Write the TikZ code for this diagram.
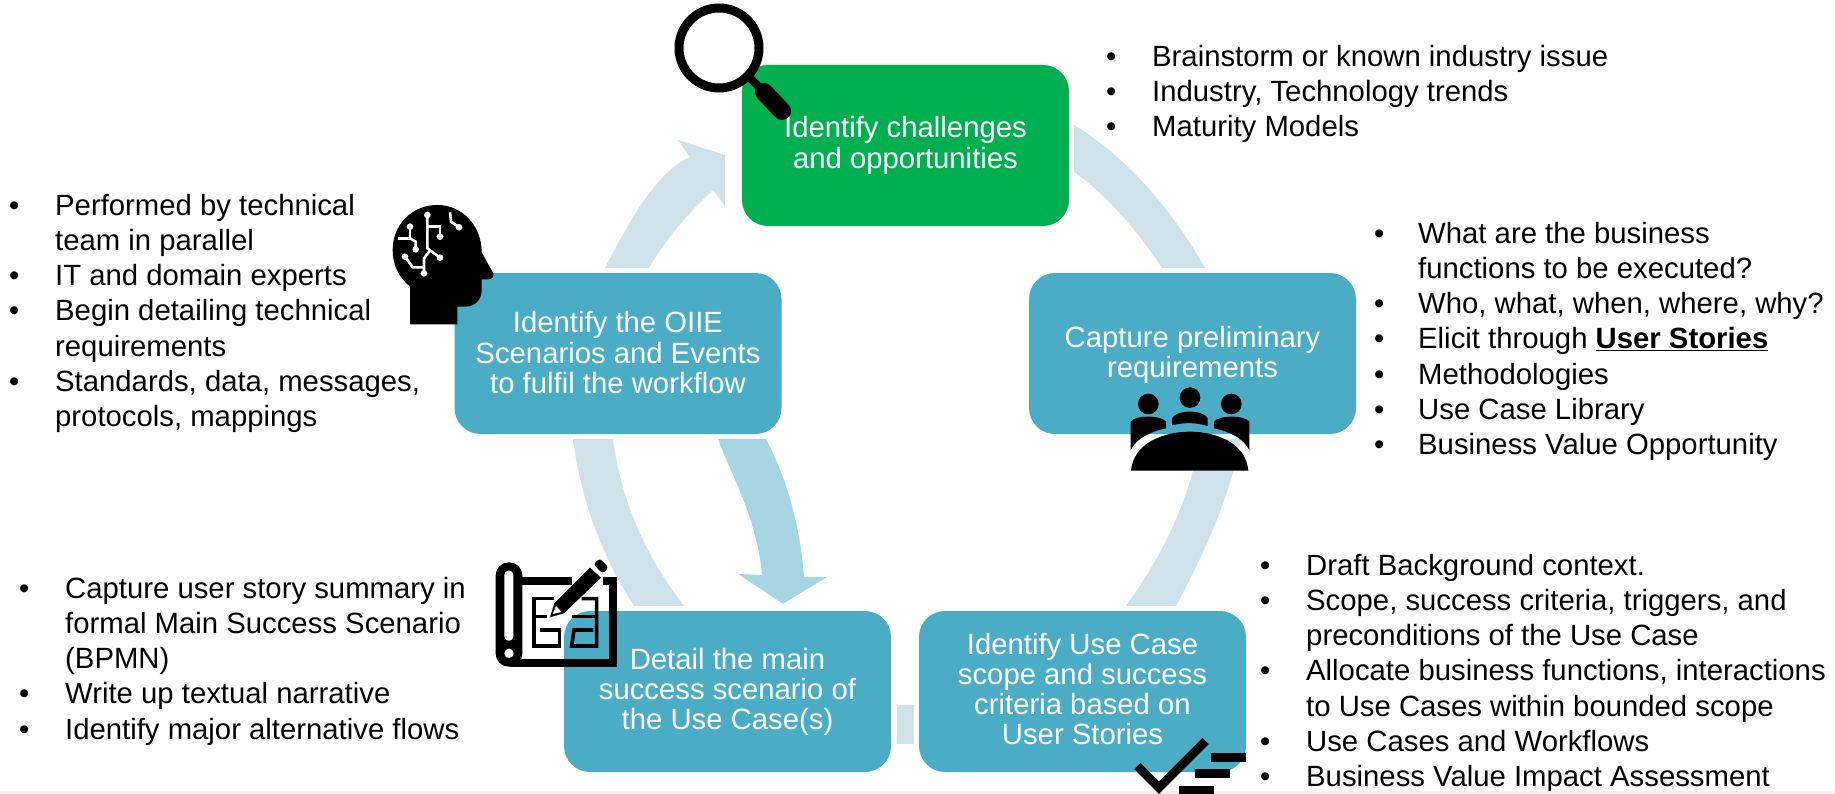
\documentclass[tikz,border=0pt]{standalone}
\usepackage{fontspec}
\setmainfont{Liberation Sans}
\usetikzlibrary{calc}
\definecolor{boxblue}{HTML}{4BACC6}
\definecolor{boxgreen}{HTML}{00B050}
\definecolor{arcpale}{HTML}{CFE2EA}
\definecolor{arcdark}{HTML}{A6D5E3}
\newlength{\bltw}
\newcommand{\blt}{\makebox[\bltw][l]{•}}
\newcommand{\cnt}{\hspace*{\bltw}}
\newcommand{\boxst}{\rule{0pt}{24pt}}
\newcommand{\boxsd}[1][5pt]{\rule[-#1]{0pt}{#1}}
\newcommand{\listst}{\rule{0pt}{26pt}}
\tikzset{
  stage/.style={rounded corners=26pt,minimum width=327pt,minimum height=161pt,inner sep=0pt,
    text=white,align=center,font=\fontsize{29.3}{30.3}\selectfont,fill=boxblue},
  bulletlist/.style={anchor=north west,inner sep=0pt,align=left,text=black,
    font=\fontsize{29.3}{35.2}\selectfont},
  paleflow/.style={fill=arcpale},
  darkflow/.style={fill=arcdark}
}
\begin{document}
\begin{tikzpicture}[x=1pt,y=-1pt]
\useasboundingbox (0,0) rectangle (1835,794);
% stages
\node[stage,fill=boxgreen] (green) at (905.5,145.5) {\boxst Identify challenges\\and opportunities\boxsd[9pt]};
\node[stage] (capture) at (1192.5,353.5) {\boxst Capture preliminary\\requirements\boxsd};
\node[stage] (usecase) at (1082.5,691.5) {\boxst Identify Use Case\\scope and success\\criteria based on\\User Stories\boxsd[8pt]};
\node[stage] (detail) at (727.5,691.5) {\boxst Detail the main\\success scenario of\\the Use Case(s)\boxsd[8pt]};
\node[stage] (oiie) at (618,353.5) {\boxst Identify the OIIE\\Scenarios and Events\\to fulfil the workflow\boxsd};
% flows
\fill[paleflow] ($(green.east)+(5,-20.5)$) .. controls (1124.7,156.3) and (1168.3,204) .. ($(capture.north)+(12.5,-5)$)
  -- ($(capture.north)+(-30.5,-5)$) .. controls (1134,226) and (1104.7,194) .. ($(green.east)+(5,26.5)$) -- cycle;
\fill[paleflow] ($(capture.south)+(48.5,5)$) .. controls (1230.3,493) and (1209,544.7) .. ($(usecase.north)+(93.5,-5)$)
  -- ($(usecase.north)+(43.5,-5)$) .. controls (1165.3,552) and (1190,496.3) .. ($(capture.south)+(7.5,5)$) -- cycle;
\fill[paleflow] ($(detail.east)+(6,13.5)$) rectangle ($(usecase.west)+(-5,52.5)$);
\fill[paleflow] ($(oiie.south)+(-45,5)$) .. controls (581,499.7) and (601.3,555.3) .. ($(detail.north)+(-93.5,-5)$)
  -- ($(detail.north)+(-43.5,-5)$) .. controls (644.7,555.3) and (621,499.7) .. ($(oiie.south)+(-5,5)$) -- cycle;
\fill[darkflow] ($(oiie.south)+(100,5)$) -- ($(oiie.south)+(148,5)$) .. controls (787.3,479.7) and (800,525.7) .. (804,577)
  -- (827,577) -- ($(detail.north)+(55.5,-7)$) -- (738,574) -- (762,575) .. controls (757.3,518.3) and (730.3,473) .. ($(oiie.south)+(100,5)$) -- cycle;
\fill[paleflow] ($(oiie.north)+(-13,-5)$) .. controls (628.3,222.7) and (656.7,171.3) .. (690,157) -- (678,140)
  -- ($(green.west)+(-17,9.5)$) -- ($(green.west)+(-17,60.5)$) -- (713,190)
  .. controls (687.7,213.3) and (665.7,239.3) .. ($(oiie.north)+(31,-5)$) -- cycle;
% lists
\setlength{\bltw}{46pt}
\node[bulletlist] (l1) at (1106,40) {\listst\blt Brainstorm or known industry issue\\\blt Industry, Technology trends\\\blt Maturity Models};
\node[bulletlist] (l5) at (9,189) {\listst\blt Performed by technical\\\cnt team in parallel\\\blt IT and domain experts\\\blt Begin detailing technical\\\cnt requirements\\\blt Standards, data, messages,\\\cnt protocols, mappings};
\node[bulletlist] (l4) at (19,572) {\listst\blt Capture user story summary in\\\cnt formal Main Success Scenario\\\cnt (BPMN)\\\blt Write up textual narrative\\\blt Identify major alternative flows};
\setlength{\bltw}{44pt}
\node[bulletlist] (l2) at (1374,217) {\listst\blt What are the business\\\cnt functions to be executed?\\\blt Who, what, when, where, why?\\\blt Elicit through \underline{\textbf{User Stories}}\\\blt Methodologies\\\blt Use Case Library\\\blt Business Value Opportunity};
\setlength{\bltw}{46pt}
\node[bulletlist] (l3) at (1260,549) {\listst\blt Draft Background context.\\\blt Scope, success criteria, triggers, and\\\cnt preconditions of the Use Case\\\blt Allocate business functions, interactions\\\cnt to Use Cases within bounded scope\\\blt Use Cases and Workflows\\\blt Business Value Impact Assessment};
% magnifier
\draw[black,line width=9pt] (719,48) circle[radius=40];
\draw[black,line width=8pt] (748,76) -- (762,90);
\draw[black,line width=18pt,line cap=round] (764,92) -- (782,111);
% head icon
\begin{scope}[shift={(380,0)},x=0.3333pt,y=-0.3333pt]
\fill[black] (90,973) -- (90,860) .. controls (55,830) and (38,795) .. (38,750)
  .. controls (38,675) and (95,615) .. (172,615) .. controls (245,615) and (305,675) .. (305,757)
  -- (340,820) .. controls (343,830) and (335,838) .. (325,838) -- (305,838) -- (305,870)
  .. controls (305,900) and (285,920) .. (255,920) -- (232,920) -- (232,973) -- cycle;
\draw[white,line width=2.6pt] (142,645) -- (142,745) -- (180,773);
\draw[white,line width=2.6pt] (142,680) -- (180,680) -- (180,710);
\draw[white,line width=2.6pt] (150,752) -- (132,775) -- (132,820);
\draw[white,line width=2.6pt] (132,802) -- (98,802) -- (75,770);
\draw[white,line width=2.6pt] (90,680) -- (90,715) -- (55,715);
\draw[white,line width=2.6pt] (90,715) -- (107,725) -- (107,748);
\draw[white,line width=2.6pt] (210,637) -- (213,665) -- (237,682);
\foreach \p in {(142,645),(180,773),(180,710),(132,820),(75,770),(90,680),(107,748),(237,682)}
  \fill[white] \p circle[radius=10];
\end{scope}
% blueprint icon
\begin{scope}[shift={(460,400)},x=0.3333pt,y=-0.3333pt]
\fill[black,rounded corners=13pt] (107,487) rectangle (187,800);
\fill[white,rounded corners=4pt] (133,512) rectangle (160,722);
\fill[white] (147,760) circle[radius=14];
\draw[black,line width=8.2pt] (180,542) -- (335,542);
\draw[black,line width=8.2pt] (430,542) -- (460,542) -- (460,788) -- (150,788);
\draw[black,line width=3.6pt] (282,596) -- (222,596) -- (222,738) -- (298,738) -- (298,690) -- (240,690);
\draw[black,line width=3.6pt] (222,650) -- (262,650);
\draw[black,line width=3.6pt] (365,596) -- (410,596) -- (410,738) -- (335,738) -- (342,690) -- (400,690);
\draw[black,line width=3.6pt] (335,650) -- (410,650);
\fill[black] (270,652) -- (283,610) -- (390,503) -- (423,533) -- (312,640) -- cycle;
\fill[black,rounded corners=3pt] (400,493) -- (420,475) -- (446,503) -- (428,521) -- cycle;
\fill[white] (278,642) -- (288,618) -- (305,636) -- cycle;
\end{scope}
% meeting icon
\begin{scope}[shift={(1030,350)},x=0.3333pt,y=-0.3333pt]
\fill[black] (355,162) circle[radius=31];
\fill[black] (480,143) circle[radius=31];
\fill[black] (604,162) circle[radius=31];
\fill[black] (302,300) -- (302,215) .. controls (315,195) and (395,195) .. (408,215) -- (408,235) .. controls (360,245) and (320,265) .. (302,300) -- cycle;
\fill[black] (426,226) -- (426,205) .. controls (440,178) and (520,178) .. (533,205) -- (533,228) .. controls (500,217) and (460,217) .. (426,226) -- cycle;
\fill[black] (658,300) -- (658,215) .. controls (645,195) and (565,195) .. (552,215) -- (552,235) .. controls (600,245) and (640,265) .. (658,300) -- cycle;
\fill[black] (303,362) .. controls (310,280) and (400,245) .. (480,245) .. controls (560,245) and (648,280) .. (655,362) -- cycle;
\end{scope}
% checklist icon
\fill[black!6] (0,791) rectangle (1835,794);
\begin{scope}[shift={(1030,350)},x=0.3333pt,y=-0.3333pt]
\draw[black,line width=9pt] (322,1248) -- (387,1313) -- (527,1173);
\fill[black] (543,1209) rectangle (648,1235);
\fill[black] (495,1258) rectangle (600,1283);
\fill[black] (447,1308) rectangle (552,1332);
\end{scope}
\end{tikzpicture}
\end{document}
